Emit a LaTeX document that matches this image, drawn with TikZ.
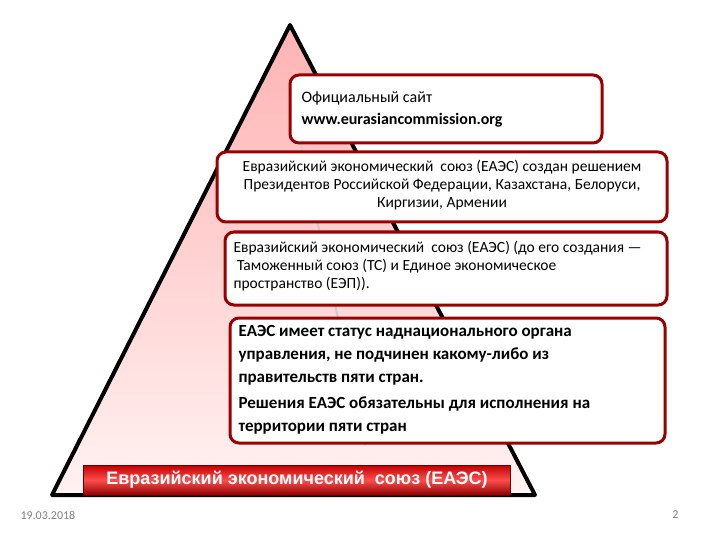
\documentclass[tikz,border=0pt]{standalone}
\usepackage{fontspec}
\setmainfont{Carlito}
\newfontfamily\bannerfont{Liberation Sans}
\begin{document}
\begin{tikzpicture}[x=1pt,y=-1pt,
  box/.style={draw=red!60!black,line width=3pt,rounded corners=9pt,fill=white,inner sep=0pt},
  txt/.style={anchor=north west,align=left,font=\fontsize{16}{22}\selectfont},
]
\useasboundingbox (0,0) rectangle (720,540);
\fill[white] (0,0) rectangle (720,540);
\shade[left color=red!30,right color=red!5,shading angle=0] (290,25) -- (52,495) -- (535,495) -- cycle;
\draw[line width=4pt,line join=round] (290,25) -- (52,495) -- (535,495) -- cycle;
\draw[gray!40,line width=2pt] (300,140) -- (365,445);
\draw[box] (290,75) rectangle (602,143);
\node[txt] (t1) at (298,88) {Официальный сайт\\\textbf{www.eurasiancommission.org}};
\draw[box] (217,152) rectangle (667,222);
\node[anchor=north,align=center,font=\fontsize{15.5}{18}\selectfont] (t2) at (442,157) {Евразийский экономический\ \ союз (ЕАЭС) создан решением\\Президентов Российской Федерации, Казахстана, Белоруси,\\Киргизии, Армении};
\draw[box] (225,232) rectangle (667,305);
\node[txt,font=\fontsize{15.5}{18}\selectfont] (t3) at (230,238) {Евразийский экономический\ \ союз (ЕАЭС) (до его создания —\\\ Таможенный союз (ТС) и Единое экономическое\\пространство (ЕЭП)).};
\draw[box] (230,318) rectangle (665,443);
\node[txt,font=\bfseries\fontsize{17}{23}\selectfont] (t4) at (235,322) {ЕАЭС имеет статус наднационального органа\\управления, не подчинен какому-либо из\\правительств пяти стран.\\[3pt]Решения ЕАЭС обязательны для исполнения на\\территории пяти стран};
\shade[top color=red!75!black,bottom color=red!55!black,middle color=red!70] (83,465) rectangle (510,495);
\draw[red!40!black,line width=0.6pt] (83,465) rectangle (510,495);
\node[white,font=\bannerfont\bfseries\fontsize{18}{20}\selectfont] (b) at (297,480) {Евразийский экономический\ \ союз (ЕАЭС)};
\node[gray,anchor=west,font=\fontsize{12}{12}\selectfont] (d) at (17,515) {19.03.2018};
\node[gray,anchor=east,font=\fontsize{12}{12}\selectfont] (p) at (682,515) {2};
\end{tikzpicture}
\end{document}
